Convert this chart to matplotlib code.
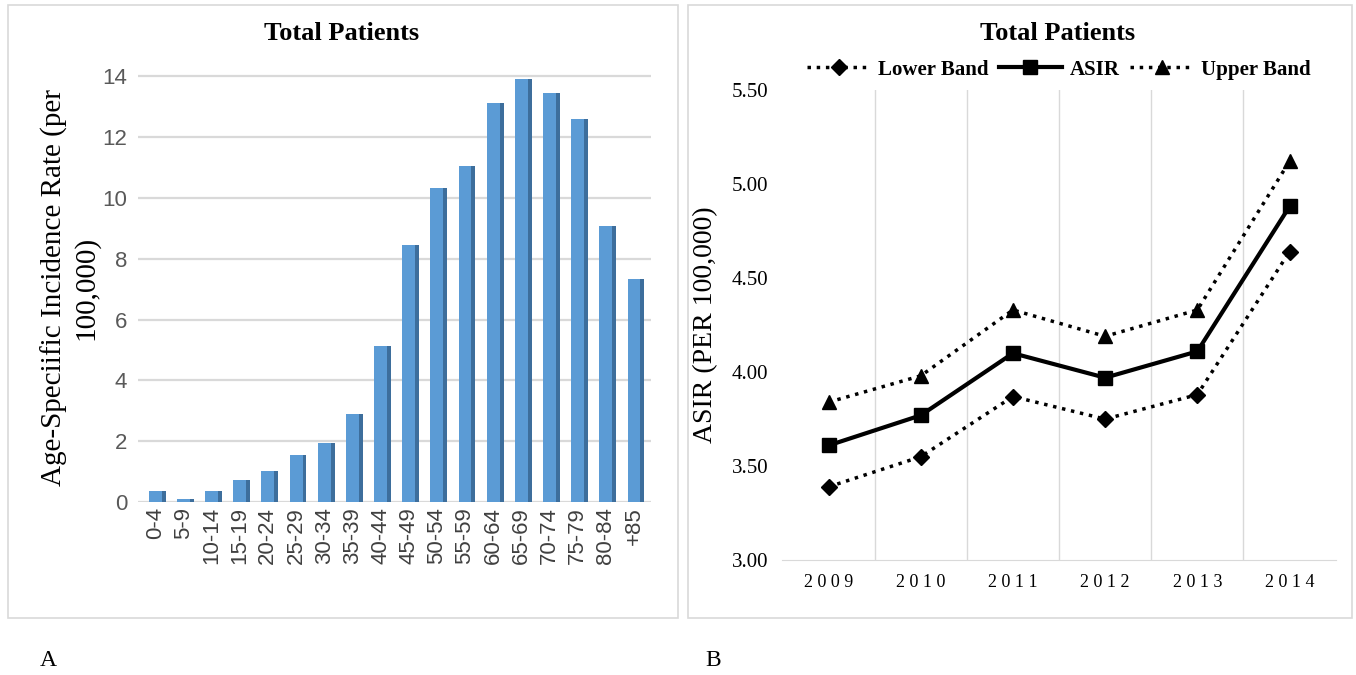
import numpy as np
import matplotlib.pyplot as plt
from matplotlib.patches import Rectangle

# panel A data
age_groups = ['0-4', '5-9', '10-14', '15-19', '20-24', '25-29', '30-34', '35-39', '40-44',
              '45-49', '50-54', '55-59', '60-64', '65-69', '70-74', '75-79', '80-84', '+85']
asir_age = [0.38, 0.12, 0.38, 0.72, 1.03, 1.56, 1.93, 2.90, 5.12,
            8.45, 10.32, 11.05, 13.12, 13.90, 13.45, 12.60, 9.08, 7.33]

# panel B data
years = ['2009', '2010', '2011', '2012', '2013', '2014']
lower_band = [3.39, 3.55, 3.87, 3.75, 3.88, 4.64]
asir = [3.61, 3.77, 4.10, 3.97, 4.11, 4.88]
upper_band = [3.84, 3.98, 4.33, 4.19, 4.33, 5.12]

serif = ['Liberation Serif', 'DejaVu Serif']
narrow = ['Liberation Sans Narrow', 'Liberation Sans', 'DejaVu Sans']

fig = plt.figure(figsize=(13.56, 6.75), dpi=100)

# panel frames
for x0, w in [(8, 670), (688, 664)]:
    fig.patches.append(Rectangle((x0 / 1356, 1 - 618 / 675), w / 1356, 613 / 675,
                                 transform=fig.transFigure, fill=False,
                                 edgecolor='#d9d9d9', linewidth=1.2))

# ---- A: age specific bars ----
ax1 = fig.add_axes([0.102, 0.256, 0.378, 0.636])
x = np.arange(len(age_groups))
bw = 0.46
side = 0.14
ax1.bar(x + bw / 2 + side / 2, asir_age, width=side, color='#3d6e9c', zorder=2)
ax1.bar(x, asir_age, width=bw, color='#5b9bd5', zorder=3)
ax1.set_xlim(-0.6, len(age_groups) - 0.4)
ax1.set_ylim(0, 14.1)
ax1.set_yticks(range(0, 15, 2))
ax1.yaxis.grid(True, color='#d9d9d9', linewidth=1.6, zorder=0)
ax1.set_axisbelow(True)
for s in ax1.spines.values():
    s.set_visible(False)
ax1.tick_params(length=0, colors='#595959')
ax1.tick_params(axis='y', pad=8)
ax1.set_xticks(x)
ax1.set_xticklabels(age_groups, rotation=90, family=narrow, fontsize=16, color='#404040')
for lab in ax1.get_yticklabels():
    lab.set_family(narrow)
    lab.set_fontsize(16)
ax1.set_ylabel('Age-Speciific Incidence Rate (per\n100,000)', family=serif, fontsize=21,
               linespacing=1.2, labelpad=2)
fig.text(342 / 1356, 1 - 33 / 675, 'Total Patients', family=serif, fontweight='bold',
         fontsize=19, ha='center', va='center')

# ---- B: ASIR trend ----
ax2 = fig.add_axes([0.577, 0.170, 0.408, 0.697])
xp = np.arange(len(years))
ax2.plot(xp, lower_band, color='black', linestyle=':', linewidth=2.5, marker='D',
         markersize=8, label='Lower Band', zorder=3)
ax2.plot(xp, asir, color='black', linestyle='-', linewidth=3, marker='s',
         markersize=10, label='ASIR', zorder=4)
ax2.plot(xp, upper_band, color='black', linestyle=':', linewidth=2.5, marker='^',
         markersize=10, label='Upper Band', zorder=3)
ax2.set_xlim(-0.5, len(years) - 0.5)
ax2.set_ylim(3.0, 5.5)
ax2.set_yticks(np.arange(3.0, 5.51, 0.5))
ax2.set_yticklabels(['%.2f' % v for v in np.arange(3.0, 5.51, 0.5)], family=serif, fontsize=15)
ax2.set_xticks(xp)
ax2.set_xticklabels([' '.join(y) for y in years], family=serif, fontsize=13)
ax2.set_xticks(xp[:-1] + 0.5, minor=True)
ax2.xaxis.grid(True, which='minor', color='#d9d9d9', linewidth=1.0)
ax2.tick_params(which='both', length=0, pad=10)
for k in ['top', 'right', 'left']:
    ax2.spines[k].set_visible(False)
ax2.spines['bottom'].set_color('#d9d9d9')
ax2.set_ylabel('ASIR (PER 100,000)', family=serif, fontsize=20, labelpad=10)
fig.text(1058 / 1356, 1 - 33 / 675, 'Total Patients', family=serif, fontweight='bold',
         fontsize=19, ha='center', va='center')
ax2.legend(loc='center', bbox_to_anchor=(0.5, 1 + 20 / 470), ncol=3, frameon=False,
           prop={'family': serif, 'weight': 'bold', 'size': 15}, handlelength=3,
           columnspacing=0.5, handletextpad=0.4, borderaxespad=0)

fig.text(40 / 1356, 1 - 660 / 675, 'A', family=serif, fontsize=17, va='center')
fig.text(705 / 1356, 1 - 660 / 675, 'B', family=serif, fontsize=17, va='center')

fig.savefig('out.png', dpi=100)
